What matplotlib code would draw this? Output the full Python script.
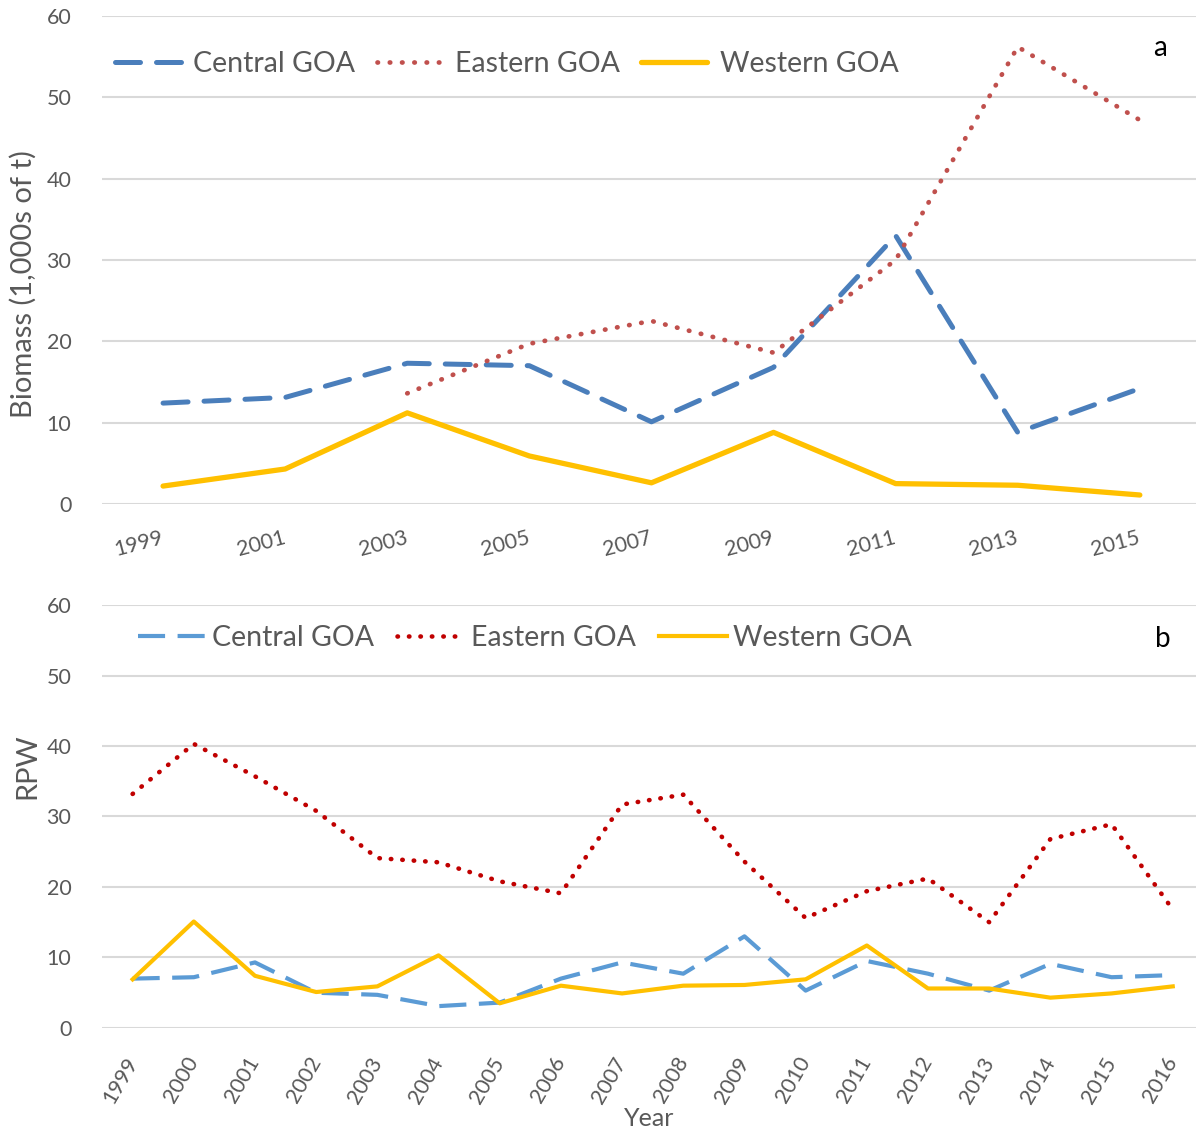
import matplotlib.pyplot as plt
import numpy as np

plt.rcParams['font.family'] = ['Lato', 'DejaVu Sans']

# panel a: biomass, odd years
years_a = ['1999', '2001', '2003', '2005', '2007', '2009', '2011', '2013', '2015']
central_a = [12.4, 13.1, 17.3, 17.0, 10.1, 16.8, 33.0, 8.8, 14.2]
eastern_a = [np.nan, np.nan, 13.6, 19.7, 22.5, 18.6, 30.0, 56.2, 47.2]
western_a = [2.2, 4.3, 11.2, 5.9, 2.6, 8.8, 2.5, 2.3, 1.1]

# panel b: RPW, every year
years_b = [str(y) for y in range(1999, 2017)]
central_b = [7.0, 7.2, 9.3, 5.0, 4.7, 3.1, 3.6, 7.0, 9.3, 7.7, 13.0, 5.3, 9.5, 7.7, 5.3, 9.1, 7.2, 7.5]
eastern_b = [33.2, 40.3, 35.7, 30.8, 24.1, 23.5, 20.8, 19.1, 31.7, 33.1, 23.6, 15.6, 19.4, 21.2, 15.0, 26.8, 28.9, 16.8]
western_b = [6.9, 15.1, 7.4, 5.1, 5.9, 10.3, 3.5, 6.0, 4.9, 6.0, 6.1, 6.9, 11.7, 5.6, 5.6, 4.3, 4.9, 5.9]

grey = '#595959'
grid = '#d9d9d9'

fig = plt.figure(figsize=(11.96, 11.33), dpi=100)
ax1 = fig.add_axes([0.0853, 0.5552, 0.9147, 0.4307])
ax2 = fig.add_axes([0.0853, 0.0927, 0.9147, 0.3733])

for ax in (ax1, ax2):
    ax.set_ylim(0, 60)
    ax.set_yticks(range(0, 61, 10))
    ax.grid(axis='y', color=grid, lw=1.5)
    ax.set_axisbelow(True)
    for s in ax.spines.values():
        s.set_visible(False)
    ax.tick_params(length=0, colors=grey, labelsize=15.5)
    ax.tick_params(axis='y', pad=22)

# top panel
xa = np.arange(len(years_a))
ax1.plot(xa, central_a, color='#4a7ebb', lw=3.6, ls=(0, (5, 3.2)), label='Central GOA', dash_capstyle='round')
ax1.plot(xa, eastern_a, color='#c0504d', lw=3.4, ls=(0, (0.1, 2.5)), label='Eastern GOA', dash_capstyle='round')
ax1.plot(xa, western_a, color='#ffc000', lw=3.8, label='Western GOA', solid_capstyle='round')
ax1.set_xlim(-0.5, 8.46)
ax1.set_xticks(xa)
ax1.set_xticklabels(years_a, rotation=15, ha='right', va='center', rotation_mode='anchor')
ax1.tick_params(axis='x', pad=24)
ax1.set_ylabel('Biomass (1,000s of t)', color=grey, fontsize=21)
ax1.yaxis.set_label_coords(-0.0594, 0.45)
ax1.legend(loc='upper left', bbox_to_anchor=(0.012, 0.929), ncol=3, frameon=False, fontsize=20.5,
           borderaxespad=0, borderpad=0, handlelength=2.3, handletextpad=0.45,
           columnspacing=0.75, labelcolor=grey)
ax1.text(0.967, 0.935, 'a', transform=ax1.transAxes, fontsize=20, ha='center', va='center')

# bottom panel
xb = np.arange(len(years_b))
ax2.plot(xb, central_b, color='#5b9bd5', lw=3.0, ls=(0, (6.5, 3)), label='Central GOA')
ax2.plot(xb, eastern_b, color='#c00000', lw=3.3, ls=(0, (0.1, 2.4)), label='Eastern GOA', dash_capstyle='round')
ax2.plot(xb, western_b, color='#ffc000', lw=3.0, label='Western GOA')
ax2.set_xlim(-0.5, 17.38)
ax2.set_xticks(xb)
ax2.set_xticklabels(years_b, rotation=60, ha='right', va='center', rotation_mode='anchor')
ax2.tick_params(axis='x', pad=22)
ax2.set_ylabel('RPW', color=grey, fontsize=21)
ax2.yaxis.set_label_coords(-0.0567, 0.62)
ax2.set_xlabel('Year', color=grey, fontsize=18, labelpad=0)
ax2.legend(loc='upper left', bbox_to_anchor=(0.033, 0.953), ncol=3, frameon=False, fontsize=20.5,
           borderaxespad=0, borderpad=0, handlelength=2.4, handletextpad=0.2,
           columnspacing=0.8, labelcolor=grey)
ax2.text(0.97, 0.92, 'b', transform=ax2.transAxes, fontsize=20, ha='center', va='center')

plt.savefig('out.png', dpi=100)
